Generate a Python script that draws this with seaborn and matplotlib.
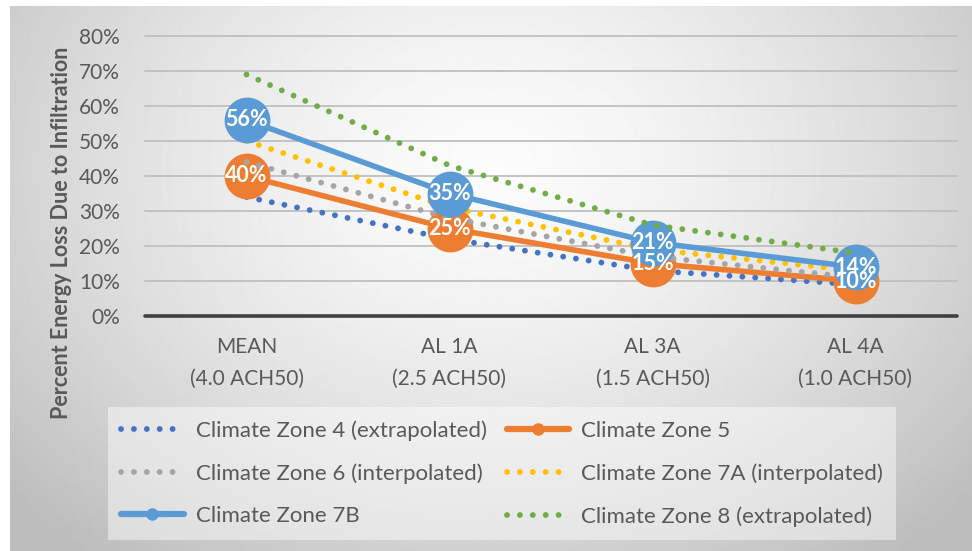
import numpy as np
import pandas as pd
import matplotlib
matplotlib.use("Agg")
import matplotlib.pyplot as plt
from matplotlib.lines import Line2D
import seaborn as sns

categories = ["MEAN\n(4.0 ACH50)", "AL 1A\n(2.5 ACH50)", "AL 3A\n(1.5 ACH50)", "AL 4A\n(1.0 ACH50)"]
zone4 = [0.34, 0.22, 0.13, 0.09]
zone5 = [0.40, 0.25, 0.15, 0.10]
zone6 = [0.44, 0.28, 0.17, 0.11]
zone7a = [0.50, 0.31, 0.19, 0.13]
zone7b = [0.56, 0.35, 0.21, 0.14]
zone8 = [0.69, 0.43, 0.26, 0.18]
series_names = ["Climate Zone 4 (extrapolated)", "Climate Zone 5",
                "Climate Zone 6 (interpolated)", "Climate Zone 7A (interpolated)",
                "Climate Zone 7B", "Climate Zone 8 (extrapolated)"]
series_values = [zone4, zone5, zone6, zone7a, zone7b, zone8]
colors = ["#4472C4", "#ED7D31", "#A5A5A5", "#FFC000", "#5B9BD5", "#70AD47"]
solid = [False, True, False, False, True, False]
yticks = [0, 0.1, 0.2, 0.3, 0.4, 0.5, 0.6, 0.7, 0.8]

sns.set_theme(style="white")
plt.rcParams["font.family"] = ["Lato", "DejaVu Sans"]
TXT = "#595959"
DOT = (0, (0.01, 2.2))

W, H = 972, 551
fig = plt.figure(figsize=(W / 100, H / 100), dpi=100)

# background gradient
bg = fig.add_axes([0, 0, 1, 1], zorder=-10)
yy, xx = np.mgrid[0:H, 0:W]
r = np.sqrt(((xx - 490) / 560.0) ** 2 + ((yy - 170) / 430.0) ** 2)
v = 0.985 - 0.20 * np.clip(r, 0, 1.15) ** 1.5
v[(xx < 10) | (yy < 6)] = 1.0
bg.imshow(v, cmap="gray", vmin=0, vmax=1, aspect="auto", interpolation="bilinear")
bg.axis("off")

ax = fig.add_axes([145 / W, 1 - 316 / H, (957 - 145) / W, 280 / H])
ax.patch.set_alpha(0)

rows = []
for name, vals in zip(series_names, series_values):
    for i, val in enumerate(vals):
        rows.append({"zone": name, "pos": i, "value": val})
df = pd.DataFrame(rows)

for k, (name, col, s) in enumerate(zip(series_names, colors, solid)):
    sub = df[df["zone"] == name]
    if s:
        sns.lineplot(data=sub, x="pos", y="value", color=col, ax=ax, sort=False,
                     linewidth=4.0, marker="o", markersize=33, markeredgewidth=0,
                     zorder=3 + k, legend=False)
    else:
        sns.lineplot(data=sub, x="pos", y="value", color=col, ax=ax, sort=False,
                     linewidth=4.2, linestyle=DOT,
                     dash_capstyle="round", zorder=3 + k, legend=False)

# data labels
for name, vals, s in zip(series_names, series_values, solid):
    if not s:
        continue
    for i, val in enumerate(vals):
        ax.text(i, val, f"{int(round(val * 100))}%", ha="center", va="center",
                color="white", fontsize=15.5, fontweight="bold", zorder=20)

ax.set_xlim(-0.5, 3.5)
ax.set_ylim(0, 0.8)
ax.set_yticks(yticks)
ax.set_yticklabels([f"{int(round(t * 100))}%" for t in yticks])
ax.set_xticks(range(len(categories)))
ax.set_xticklabels(categories, linespacing=1.75)
ax.tick_params(axis="y", length=0, pad=18, labelsize=15, labelcolor=TXT)
ax.tick_params(axis="x", length=0, pad=15, labelsize=15, labelcolor=TXT)
ax.set_xlabel("")
ax.set_ylabel("")
for t in yticks[1:]:
    ax.axhline(t, color="#BFBFBF", linewidth=1.3, zorder=1, clip_on=False)
ax.axhline(0, color="#404040", linewidth=2.6, zorder=2, clip_on=False)
for sp in ax.spines.values():
    sp.set_visible(False)
ax.grid(False)

fig.text(62 / W, 1 - 233 / H, "Percent Energy Loss Due to Infiltration",
         rotation=90, ha="center", va="center", fontsize=15.5,
         fontweight="bold", color=TXT)

handles = []
for col, s in zip(colors, solid):
    if s:
        handles.append(Line2D([], [], color=col, linewidth=4.5, marker="o",
                              markersize=9, markeredgewidth=0))
    else:
        handles.append(Line2D([], [], color=col, linewidth=4.2,
                              linestyle=DOT, dash_capstyle="round"))
order = [0, 2, 4, 1, 3, 5]
leg = fig.legend([handles[i] for i in order], [series_names[i] for i in order],
                 ncol=2, loc="upper left",
                 bbox_to_anchor=(108 / W, 1 - 407 / H),
                 frameon=True, fontsize=16, handlelength=2.8,
                 handletextpad=0.55, labelspacing=1.0, borderaxespad=0,
                 borderpad=0.6, columnspacing=0.9)
fr = leg.get_frame()
fr.set_facecolor("white")
fr.set_alpha(0.45)
fr.set_edgecolor("none")
fr.set_boxstyle("square", pad=0)
for t in leg.get_texts():
    t.set_color(TXT)

fig.savefig("out.png", dpi=100)
